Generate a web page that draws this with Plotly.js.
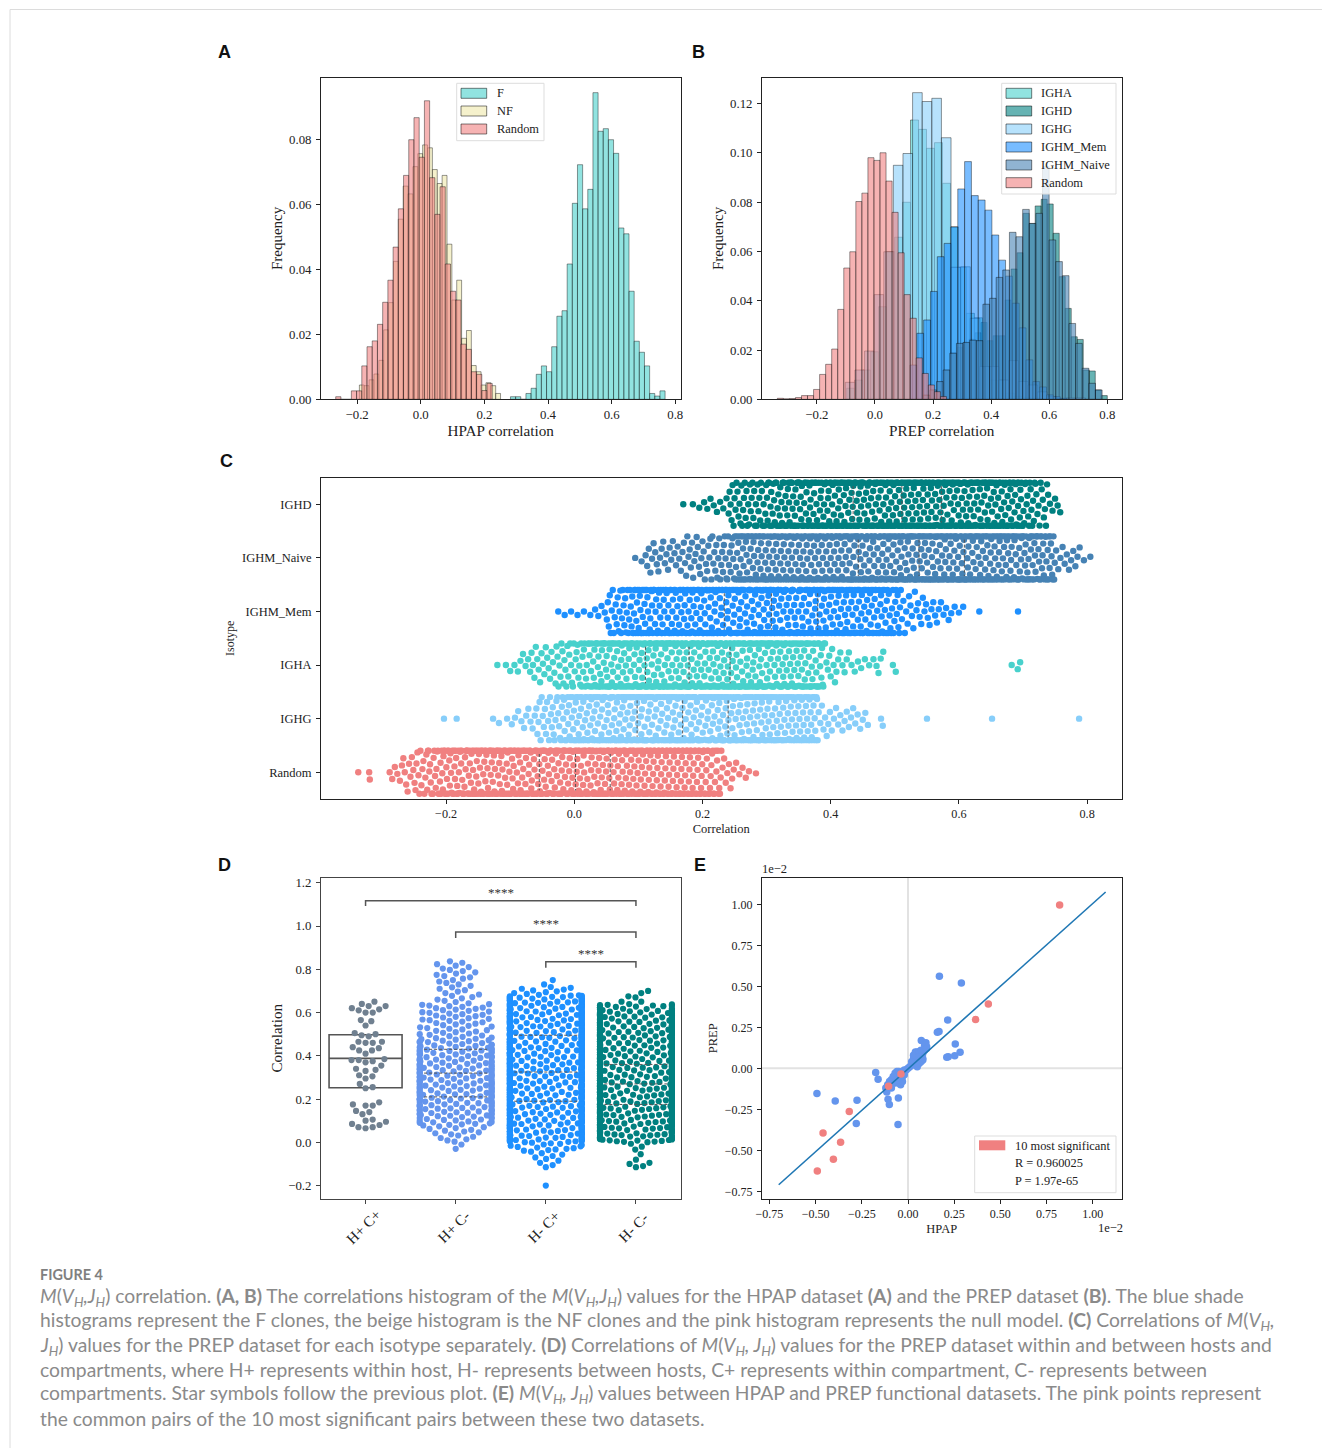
<!DOCTYPE html>
<html><head><meta charset="utf-8">
<script src="https://cdn.plot.ly/plotly-3.0.1.min.js"></script>
<style>html,body{margin:0;padding:0;background:#fff}#g{width:1322px;height:1448px}</style>
</head><body><div id="g"></div>
<script>
// ---------- Panel A histograms: first bin edge, bin width, heights
const aF = {start:0.282, w:0.0162, h:[.0008,.0008,0,.0018,.0034,.0077,.0103,.0085,.0162,.0256,.0273,.0417,.0604,.0723,.0587,.0647,.0945,.0826,.0834,.08,.0758,.0528,.051,.0333,.0179,.0145,.0103,.0018,.001,.0026]};
const aNF = {start:-0.1929, w:0.0153, h:[.0044,.0042,.0060,.0078,.0120,.0214,.0298,.0425,.0555,.0657,.0633,.0717,.0757,.0784,.0775,.0708,.0665,.0690,.0478,.0306,.0367,.0188,.0212,.0104,.0085,.0044,.0051,.0042,.0018]};
const aRandom = {start:-0.2673, w:0.0164, h:[.0008,0,0,.0026,.0026,.0103,.0162,.018,.0231,.0299,.0367,.0469,.0587,.069,.08,.0868,.0746,.092,.0683,.057,.0655,.0417,.0333,.0306,.017,.0154,.0085,.0077,.0027,.0049]};
// ---------- Panel B histograms
const bIGHA = {start:-0.0976, w:0.0275, h:[.0045,.0078,.0119,.0193,.0376,.06,.0658,.08,.1134,.1096,.1019,.1042,.0877,.07,.0536,.0349,.0331,.0133,.0078,.0078,.0025,.0012,.0008,.0005]};
const bIGHD = {start:0.2411, w:0.0207, h:[.0119,.0189,.021,.023,.0244,.027,.0312,.0238,.0258,.0258,.0403,.0529,.0595,.0755,.0714,.0785,.0812,.0793,.0674,.0498,.0369,.0254,.0243,.0119,.0115,.0038,.0015]};
const bIGHG = {start:-0.1022, w:0.0331, h:[.0069,.0119,.0196,.0425,.0599,.095,.0998,.1245,.1209,.1222,.1062,.0536,.0538,.0329,.0133,.0133,.0078,.0157,.0072,.0058,.003,.001,0,.0005,.0005]};
const bMem = {start:0.1206, w:0.0235, h:[.0139,.0268,.0322,.0438,.0579,.0633,.07,.0854,.0965,.0827,.0809,.0768,.0667,.0565,.05,.039,.029,.016,.0072,.005,.0018,.0011,.0004]};
const bNaive = {start:0.1665, w:0.0228, h:[.0017,.0038,.0072,.0119,.0187,.0227,.0231,.024,.0238,.0386,.041,.0495,.0525,.0678,.066,.0771,.0714,.0755,.0944,.0647,.0559,.0502,.0308,.0227,.0126,.0065,.0038]};
const bRandom = {start:-0.3363, w:0.0208, h:[.0004,.0002,.0003,.0007,.0015,.0015,.004,.0101,.0142,.0204,.0365,.0533,.0599,.0803,.0837,.0981,.097,.1001,.0886,.0759,.0595,.0425,.0329,.0168,.0105,.0058,.0031,.0011]};

// ---------- Panel C: number of dots per 0.02 bin, plus separately read sparse dots and quartiles
const cCategories = ["IGHD","IGHM_Naive","IGHM_Mem","IGHA","IGHG","Random"];
const cColors = ["#008080","#4682B4","#1E90FF","#48D1CC","#87CEFA","#F08080"];
const cIGHD = {start:0.16, n:[1,2,4,4,13,15,15,18,22,22,22,22,23,23,23,24,24,24,24,24,24,24,24,23,23,22,22,16,12,5], tail:[], q:[.435,.511,.5726]};
const cNaive = {start:0.09, n:[2,8,8,8,11,11,13,15,22,22,22,22,22,23,23,23,23,24,24,24,24,24,24,24,24,24,23,23,23,22,22,22,20,6,6,2], tail:[], q:[.443,.5378,.6085]};
const cMem = {start:-0.03, n:[2,2,2,4,13,16,22,22,22,23,23,23,24,24,24,24,24,24,24,23,23,22,22,22,22,20,16,9,8,7,5,3], tail:[.6318,.6922], q:[.234,.3074,.3797]};
const cIGHA = {start:-0.13, n:[1,3,5,9,9,13,14,18,22,22,22,23,23,24,24,24,24,24,24,23,23,23,22,22,22,20,9,6,4,3], tail:[.4715,.4746,.478,.482,.497,.5015,.6823,.6917,.6955], q:[.111,.179,.243]};
const cIGHG = {start:-0.10, n:[4,6,12,14,18,22,22,22,23,23,24,24,24,24,24,24,24,23,23,23,22,22,22,22,8,6,6,5], tail:[-.2033,-.1835,-.1267,-.1175,-.1048,.4785,.4812,.5502,.6517,.7875], q:[.098,.169,.24]};
const cRandom = {start:-0.29, n:[5,9,13,18,22,23,24,24,24,24,24,24,24,24,24,24,24,24,24,24,24,24,24,24,22,18,8,4], tail:[-.337,-.32,-.319,.2725,.2834], q:[-.0546,.002,.056]};
const cSets = [cIGHD,cNaive,cMem,cIGHA,cIGHG,cRandom];

// ---------- Panel D: number of dots per 0.04 bin, sparse dots, quartiles
const dCategories = ["H+ C+","H+ C-","H- C+","H- C-"];
const dColors = ["#708090","#6495ED","#1E90FF","#008080"];
const dHpCp = [.65,.64,.63,.63,.615,.62,.61,.60,.60,.565,.56,.54,.50,.495,.505,.49,.465,.465,.46,.46,.44,.435,.425,.425,.41,.385,.38,.38,.37,.375,.355,.34,.335,.33,.31,.305,.295,.27,.255,.25,.185,.175,.17,.17,.145,.14,.13,.105,.10,.095,.085,.08,.07,.07,.065];
const dHpCm = {start:-0.04, n:[2,7,10,18,22,22,23,23,22,22,22,22,18,13,12,13,13,7,6,6,7,6], tail:[], q:[.21,.32,.43]};
const dHmCp = {start:-0.12, n:[4,6,14,28,30,30,30,30,31,31,31,31,31,31,31,31,30,30,30,30,10,2], tail:[-.2], q:[.19,.325,.495]};
const dHmCm = {start:-0.04, n:[3,28,30,30,30,31,31,31,31,31,31,30,30,30,28,28,24], tail:[-.115,-.11,-.1,-.095,-.08,-.055,.65,.65,.67,.675,.69,.70], q:[.175,.27,.36]};
const dBox = {q1:.252, median:.388, q3:.497};

// ---------- Panel E scatter
const eBlueX = [.17,.289,.215,.168,.159,.256,.282,.253,.218,.21,.072,.097,.101,.02,.03,.04,.05,.05,.06,.07,.03,.04,.05,.06,.07,.08,.08,.09,.03,.04,.06,.07,.09,.1,.01,0,.02,.05,.06,.08,-.06,-.07,-.05,-.04,-.03,-.02,-.01,-.08,-.09,-.1,-.11,-.12,-.115,-.09,-.07,-.05,-.04,-.03,-.05,-.06,-.03,-.02,-.175,-.162,-.493,-.394,-.276,-.28,-.054,-.052,-.108,-.101];
const eBlueY = [.561,.52,.295,.224,.22,.148,.0976,.077,.071,.067,.169,.156,.132,.02,.03,.05,.07,.1,.05,.08,.06,.02,.01,.03,.04,.05,.09,.11,.08,.1,.1,.11,.14,.12,.01,0,.04,.03,.07,.06,-.02,-.03,-.02,-.03,-.02,-.01,-.01,-.05,-.07,-.08,-.1,-.12,-.145,-.12,-.09,-.09,-.1,-.08,-.06,-.07,-.05,-.04,-.026,-.067,-.154,-.199,-.195,-.337,-.343,-.181,-.189,-.22];
const eRedX = [.821,.435,.366,-.038,-.105,-.318,-.46,-.365,-.404,-.491];
const eRedY = [.996,.392,.297,-.035,-.11,-.264,-.394,-.451,-.555,-.626];
const eLineX = [-.70,1.07];
const eLineY = [-.71,1.075];

// ---------- Text
const serif = "Liberation Serif";
const captionLines = [
 "<i>M</i>(<i>V<sub>H</sub>,J<sub>H</sub></i>) correlation. <b>(A, B)</b> The correlations histogram of the <i>M</i>(<i>V<sub>H</sub>,J<sub>H</sub></i>) values for the HPAP dataset <b>(A)</b> and the PREP dataset <b>(B)</b>. The blue shade",
 "histograms represent the F clones, the beige histogram is the NF clones and the pink histogram represents the null model. <b>(C)</b> Correlations of <i>M</i>(<i>V<sub>H</sub>,</i>",
 "<i>J<sub>H</sub></i>) values for the PREP dataset for each isotype separately. <b>(D)</b> Correlations of <i>M</i>(<i>V<sub>H</sub>, J<sub>H</sub></i>) values for the PREP dataset within and between hosts and",
 "compartments, where H+ represents within host, H- represents between hosts, C+ represents within compartment, C- represents between",
 "compartments. Star symbols follow the previous plot. <b>(E)</b> <i>M</i>(<i>V<sub>H</sub>, J<sub>H</sub></i>) values between HPAP and PREP functional datasets. The pink points represent",
 "the common pairs of the 10 most significant pairs between these two datasets."
];
const captionY = [1297,1321,1346,1369,1394,1418];

// ---------- Helpers
const W=1322,H=1448;
const px=x=>x/W, py=y=>1-y/H;
const edges=s=>s.h.map((_,i)=>s.start+(i+.5)*s.w);
function hist(s,color,xa,ya){return {type:'bar',x:edges(s),y:s.h,width:s.w,xaxis:xa,yaxis:ya,
  marker:{color:color,line:{color:'rgba(0,0,0,0.45)',width:.9}},hoverinfo:'skip'};}
function expand(s,w){const v=[];s.n.forEach((c,i)=>{for(let j=0;j<c;j++)v.push(s.start+(i+(j+.5)/c)*w);});return v.concat(s.tail).sort((a,b)=>a-b);}
function swarm(values,scale,dia,limit){ // beeswarm layout, offsets in px, overflow clamped to the gutter
  const placed=[],out=[];
  values.forEach(v=>{const p=v*scale;const near=placed.filter(q=>Math.abs(q.p-p)<dia);
    const cand=[0];near.forEach(q=>{const d=Math.sqrt(dia*dia-(q.p-p)*(q.p-p));cand.push(q.o+d,q.o-d);});
    cand.sort((a,b)=>Math.abs(a)-Math.abs(b));
    let o=0;for(const c of cand){if(near.every(q=>(q.p-p)*(q.p-p)+(q.o-c)*(q.o-c)>=dia*dia-1e-6)){o=c;break;}}
    placed.push({p,o});out.push(Math.max(-limit,Math.min(limit,o)));});
  return out;}

const traces=[];
// A
traces.push(hist(aF,'rgba(72,209,204,0.6)','x','y'),hist(aNF,'rgba(238,232,170,0.6)','x','y'),hist(aRandom,'rgba(240,128,128,0.6)','x','y'));
// B
traces.push(hist(bIGHA,'rgba(72,209,204,0.6)','x2','y2'),hist(bIGHD,'rgba(0,128,128,0.6)','x2','y2'),hist(bIGHG,'rgba(135,206,250,0.6)','x2','y2'),hist(bMem,'rgba(30,144,255,0.6)','x2','y2'),hist(bNaive,'rgba(70,130,180,0.6)','x2','y2'),hist(bRandom,'rgba(240,128,128,0.6)','x2','y2'));
// C
const cScale=641,cCat=53.58;
cSets.forEach((s,i)=>{const v=expand(s,.02);const o=swarm(v,cScale,7.3,21.5);
  traces.push({type:'scatter',mode:'markers',x:v,y:o.map(a=>i+a/cCat),xaxis:'x3',yaxis:'y3',marker:{color:cColors[i],size:6.4,line:{width:0}},hoverinfo:'skip'});});
{const qx=[],qy=[];cSets.forEach((s,i)=>s.q.forEach(q=>{qx.push(q,q,null);qy.push(i-.34,i+.34,null);}));
 traces.push({type:'scatter',mode:'lines',x:qx,y:qy,xaxis:'x3',yaxis:'y3',line:{color:'#555',width:1,dash:'3px,2px'},hoverinfo:'skip'});}
// D
traces.push({type:'box',x:[0],q1:[dBox.q1],median:[dBox.median],q3:[dBox.q3],lowerfence:[dBox.q1],upperfence:[dBox.q3],width:.81,xaxis:'x4',yaxis:'y4',
  line:{color:'#555',width:1.6},fillcolor:'rgba(255,255,255,0)',whiskerwidth:0,hoverinfo:'skip'});
const dScale=216.3,dCat=90.25;
[dHpCp,expand(dHpCm,.04),expand(dHmCp,.04),expand(dHmCm,.04)].forEach((v,i)=>{const s=[...v].sort((a,b)=>a-b);const o=swarm(s,dScale,7.2,36);
  traces.push({type:'scatter',mode:'markers',x:o.map(a=>i+a/dCat),y:s,xaxis:'x4',yaxis:'y4',marker:{color:dColors[i],size:6.2,line:{width:0}},hoverinfo:'skip'});});
{const qx=[],qy=[];[dHpCm,dHmCp,dHmCm].forEach((s,k)=>s.q.forEach(q=>{qx.push(k+1-.35,k+1+.35,null);qy.push(q,q,null);}));
 traces.push({type:'scatter',mode:'lines',x:qx,y:qy,xaxis:'x4',yaxis:'y4',line:{color:'#555',width:1,dash:'3px,2px'},hoverinfo:'skip'});}
const bracketX=[0,0,3,3,null,1,1,3,3,null,2,2,3,3];
const bracketY=[1.092,1.117,1.117,1.092,null,.945,.972,.972,.945,null,.807,.835,.835,.807];
traces.push({type:'scatter',mode:'lines',x:bracketX,y:bracketY,xaxis:'x4',yaxis:'y4',line:{color:'#555',width:1.5},hoverinfo:'skip'});
// E
traces.push({type:'scatter',mode:'lines',x:[0,0],y:[-.7969,1.1634],xaxis:'x5',yaxis:'y5',line:{color:'#e2e2e2',width:2},hoverinfo:'skip'});
traces.push({type:'scatter',mode:'lines',x:[-.7932,1.1587],y:[0,0],xaxis:'x5',yaxis:'y5',line:{color:'#e2e2e2',width:2},hoverinfo:'skip'});
traces.push({type:'scatter',mode:'markers',x:eBlueX,y:eBlueY,xaxis:'x5',yaxis:'y5',marker:{color:'#6495ED',size:7.5,line:{width:0}},hoverinfo:'skip'});
traces.push({type:'scatter',mode:'lines',x:eLineX,y:eLineY,xaxis:'x5',yaxis:'y5',line:{color:'#1f77b4',width:1.6},hoverinfo:'skip'});
traces.push({type:'scatter',mode:'markers',x:eRedX,y:eRedY,xaxis:'x5',yaxis:'y5',marker:{color:'#F08080',size:7.5,line:{width:0}},hoverinfo:'skip'});

// Axes
function xax(l,r,range,extra,anchor){return Object.assign({domain:[px(l),px(r)],range:range,anchor:anchor,showgrid:false,zeroline:false,showline:true,mirror:true,linecolor:'#222',linewidth:1,ticks:'outside',ticklen:3.5,tickwidth:1,tickcolor:'#222',tickfont:{family:serif,size:12.8,color:'#222'},automargin:false},extra);}
function yax(t,b,range,extra,anchor){return Object.assign({domain:[py(b),py(t)],range:range,anchor:anchor,showgrid:false,zeroline:false,showline:true,mirror:true,linecolor:'#222',linewidth:1,ticks:'outside',ticklen:3.5,tickwidth:1,tickcolor:'#222',ticklabelstandoff:2,tickfont:{family:serif,size:12.8,color:'#222'},automargin:false},extra);}
const ttl=(t,s,st)=>({text:t,font:{family:serif,size:s,color:'#222'},standoff:st});
const layout={width:W,height:H,margin:{l:0,r:0,t:0,b:0,pad:0},paper_bgcolor:'#fff',plot_bgcolor:'#fff',showlegend:false,barmode:'overlay',bargap:0,
 xaxis:xax(320.5,681,[-.3151,.818],{tick0:0,dtick:.2,tickformat:'.1f',title:ttl('HPAP correlation',15.2,4)},'y'),
 yaxis:yax(77.5,399.3,[0,.09917],{tick0:0,dtick:.02,tickformat:'.2f',title:ttl('Frequency',15,2)},'x'),
 xaxis2:xax(761.5,1122,[-.3908,.8506],{tick0:0,dtick:.2,tickformat:'.1f',title:ttl('PREP correlation',15.2,4)},'y2'),
 yaxis2:yax(77.5,399.3,[0,.13065],{tick0:0,dtick:.02,tickformat:'.2f',title:ttl('Frequency',15,2)},'x2'),
 xaxis3:xax(320.5,1122,[-.3959,.8544],{tick0:0,dtick:.2,tickformat:'.1f',tickfont:{family:serif,size:12.2,color:'#222'},title:ttl('Correlation',12.5,4)},'y3'),
 yaxis3:yax(477.5,799,[5.5,-.5],{tickvals:[0,1,2,3,4,5],ticktext:cCategories,tickfont:{family:serif,size:12.5,color:'#222'},title:ttl('Isotype',12,4)},'x3'),
 xaxis4:xax(320.5,681,[-.5,3.5],{tickvals:[0,1,2,3],showticklabels:false,linecolor:'#444',tickcolor:'#444'},'y4'),
 yaxis4:yax(877.5,1199,[-.262,1.2242],{tick0:0,dtick:.2,tickformat:'.1f',linecolor:'#444',tickcolor:'#444',title:ttl('Correlation',15,1)},'x4'),
 xaxis5:xax(761.5,1122,[-.7932,1.1587],{tick0:0,dtick:.25,tickformat:'.2f',tickfont:{family:serif,size:12,color:'#222'},title:ttl('HPAP',12.5,4)},'y5'),
 yaxis5:yax(877.5,1199,[-.7969,1.1634],{tick0:0,dtick:.25,tickformat:'.2f',tickfont:{family:serif,size:12,color:'#222'},title:ttl('PREP',12.5,4)},'x5'),
 shapes:[],annotations:[]};

const rectPx=(x0,y0,x1,y1,fill,line)=>({type:'rect',xref:'paper',yref:'paper',x0:px(x0),x1:px(x1),y0:py(y0),y1:py(y1),fillcolor:fill,line:line,layer:'above'});
const note=(x,y,text,size,opt)=>Object.assign({xref:'paper',yref:'paper',x:px(x),y:py(y),text:text,showarrow:false,xanchor:'left',yanchor:'middle',borderpad:0,font:{family:serif,size:size,color:'#222'}},opt||{});
// page frame
layout.shapes.push({type:'line',xref:'paper',yref:'paper',x0:px(10),x1:1,y0:py(9.5),y1:py(9.5),line:{color:'#dcdcdc',width:1},layer:'below'});
layout.shapes.push({type:'line',xref:'paper',yref:'paper',x0:px(10),x1:px(10),y0:py(9.5),y1:0,line:{color:'#dcdcdc',width:1},layer:'below'});
// legends
const edgeLine={color:'rgba(0,0,0,0.5)',width:1}, boxLine={color:'#dddddd',width:1};
layout.shapes.push(rectPx(456.7,83.3,544,140.7,'rgba(255,255,255,0.8)',boxLine));
[['F','rgba(72,209,204,0.6)',93.3],['NF','rgba(238,232,170,0.6)',111],['Random','rgba(240,128,128,0.6)',129]].forEach(e=>{
  layout.shapes.push(rectPx(461,e[2]-5,486.7,e[2]+5,e[1],edgeLine));layout.annotations.push(note(496,e[2],e[0],12.4));});
layout.shapes.push(rectPx(1001.7,83.3,1116,194,'rgba(255,255,255,0.8)',boxLine));
[['IGHA','rgba(72,209,204,0.6)',93.3],['IGHD','rgba(0,128,128,0.6)',111],['IGHG','rgba(135,206,250,0.6)',129],['IGHM_Mem','rgba(30,144,255,0.6)',147],['IGHM_Naive','rgba(70,130,180,0.6)',165],['Random','rgba(240,128,128,0.6)',182.7]].forEach(e=>{
  layout.shapes.push(rectPx(1006,e[2]-5,1031.7,e[2]+5,e[1],edgeLine));layout.annotations.push(note(1040.3,e[2],e[0],12.4));});
layout.shapes.push(rectPx(974.7,1136,1116,1192.7,'rgba(255,255,255,0.8)',boxLine));
layout.shapes.push(rectPx(979,1140.3,1005.3,1150.3,'#F08080',{width:0}));
[['10 most significant',1146],['R = 0.960025',1163],['P = 1.97e-65',1181]].forEach(e=>layout.annotations.push(note(1013.6,e[1],e[0],12.4)));
// offset labels
layout.annotations.push(note(761,869,'1e\u22122',12.5),note(1097,1228,'1e\u22122',12.5));
// rotated category labels for panel D, centred under the ticks as in the reference
dCategories.forEach((t,i)=>layout.annotations.push({xref:'x4',yref:'paper',x:i,y:py(1227),xshift:-2,text:t,textangle:-45,showarrow:false,xanchor:'center',yanchor:'middle',font:{family:serif,size:15,color:'#222'}}));
// significance stars
[[1.5,1.155,'x4'],[2,1.01,'x4'],[2.5,.873,'x4']].forEach(s=>layout.annotations.push({xref:'x4',yref:'y4',x:s[0],y:s[1],text:'****',showarrow:false,font:{family:serif,size:13,color:'#333'},yanchor:'middle'}));
// panel letters
[['A',217,52],['B',691,52],['C',219,461],['D',217,865],['E',693,865]].forEach(l=>layout.annotations.push(note(l[1],l[2],'<b>'+l[0]+'</b>',18,{font:{family:'Liberation Sans',size:18,color:'#111'}})));
// caption
layout.annotations.push(note(38.5,1274,'<b>FIGURE 4</b>',14.4,{font:{family:'Lato',size:14.4,color:'#808080'}}));
captionLines.forEach((t,i)=>layout.annotations.push(note(38.5,captionY[i],t,19.3,{font:{family:'Lato',size:19.3,color:'#8a8a8a'}})));

Plotly.newPlot('g',traces,layout,{displayModeBar:false,staticPlot:true});
</script></body></html>
